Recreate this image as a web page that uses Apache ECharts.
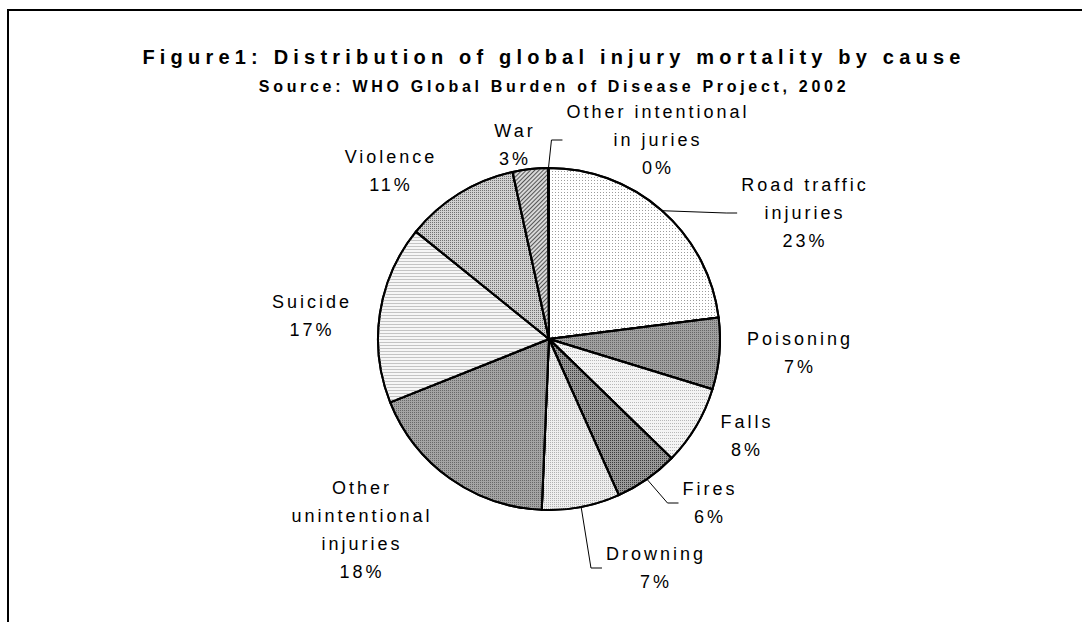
<!DOCTYPE html>
<html>
<head>
<meta charset="utf-8">
<script src="https://cdn.jsdelivr.net/npm/echarts@6/dist/echarts.min.js"></script>
<style>
html,body{margin:0;padding:0;background:#fff;}
#chart{width:1082px;height:622px;}
#chart text{letter-spacing:3px;}
#chart text[style*="20px"]{letter-spacing:5.2px;}
#chart text[style*="16px"]{letter-spacing:3.7px;}
</style>
</head>
<body>
<div id="chart"></div>
<script>
const titleText = 'Figure1: Distribution of global injury mortality by cause';
const subtitleText = 'Source: WHO Global Burden of Disease Project, 2002';
const categories = ['Road traffic\ninjuries', 'Poisoning', 'Falls', 'Fires', 'Drowning',
  'Other\nunintentional\ninjuries', 'Suicide', 'Violence', 'War', 'Other intentional\nin juries'];
const deaths = [1192, 350, 391, 312, 382, 948, 873, 559, 172, 5]; // thousands
const sliceColors = ['#ffffff', '#a0a0a0', '#f4f4f4', '#9a9a9a', '#eeeeee',
  '#a4a4a4', '#f6f6f6', '#d0d0d0', '#d8d8d8', '#ff00ff'];
const showLine = [true, false, false, true, true, false, false, false, false, true];

const total = deaths.reduce((a, b) => a + b, 0);

// texture patterns (styles only)
const decals = [
  {symbol: 'rect', symbolSize: 1, dashArrayX: [1, 2], dashArrayY: [1, 2], color: '#9c9c9c'},
  {symbol: 'rect', symbolSize: 1, dashArrayX: [1, 1], dashArrayY: [1, 1], color: '#666666'},
  {symbol: 'rect', symbolSize: 1, dashArrayX: [1, 1], dashArrayY: [1, 2], color: '#b8b8b8'},
  {symbol: 'rect', symbolSize: 1, dashArrayX: [1, 1], dashArrayY: [1, 1], color: '#3a3a3a'},
  {symbol: 'rect', symbolSize: 1, dashArrayX: [1, 1], dashArrayY: [1, 1], color: '#b0b0b0'},
  {symbol: 'rect', symbolSize: 1, dashArrayX: [1, 1], dashArrayY: [1, 1], color: '#686868'},
  {symbol: 'rect', symbolSize: 1, dashArrayX: [[1, 0]], dashArrayY: [1, 2], color: '#c4c4c4'},
  {symbol: 'rect', symbolSize: 1, dashArrayX: [1, 1], dashArrayY: [1, 1], color: '#707070'},
  {symbol: 'rect', symbolSize: 1, dashArrayX: [[1, 0]], dashArrayY: [1, 2], rotation: -Math.PI / 4, color: '#555555'},
  null
];

const chart = echarts.init(document.getElementById('chart'), null, {renderer: 'svg'});

// label placement (layout only): centre of each label block
const labelCentres = [[805, 213], [800, 353], [747, 436], [710, 503], [656, 568],
  [362, 530], [312, 316], [391, 171], [515, 145], [658, 140]];
const LETTER_SP = 3;

chart.setOption({
  backgroundColor: '#fff',
  animation: false,
  title: {
    text: titleText,
    subtext: subtitleText,
    left: 549,
    textAlign: 'center',
    top: 42,
    itemGap: 11,
    textStyle: {fontFamily: 'Liberation Sans', fontWeight: 'bold', fontSize: 20, color: '#000'},
    subtextStyle: {fontFamily: 'Liberation Sans', fontWeight: 'bold', fontSize: 16, color: '#000'}
  },
  graphic: [{
    type: 'rect', shape: {x: 8, y: 10, width: 1200, height: 800},
    style: {fill: 'none', stroke: '#000', lineWidth: 2}
  }],
  series: [{
    type: 'pie',
    center: [549, 339],
    radius: 171,
    startAngle: 90,
    clockwise: true,
    avoidLabelOverlap: false,
    itemStyle: {borderColor: '#000', borderWidth: 2},
    label: {
      show: true,
      position: 'outer',
      fontFamily: 'Liberation Sans',
      fontSize: 18,
      lineHeight: 28,
      color: '#000',
      formatter: p => (p.name + '\n' + Math.round(p.value / total * 100) + '%')
        .split('\n').map(s => '{c|' + s + '}').join('\n'),
      rich: {c: {align: 'center', fontFamily: 'Liberation Sans', fontSize: 18, lineHeight: 28, color: '#000'}}
    },
    labelLine: {length: 10, length2: 10, lineStyle: {color: '#000', width: 1}},
    data: categories.map((c, i) => ({
      name: c, value: deaths[i],
      itemStyle: decals[i] ? {color: sliceColors[i], decal: decals[i]} : {color: sliceColors[i]},
      labelLine: {show: showLine[i]}
    })),
    labelLayout: function (params) {
      const i = params.dataIndex;
      const c = labelCentres[i];
      const r = params.labelRect;
      let x = c[0], y = c[1];
      if (params.align === 'left') x = c[0] - r.width / 2;
      else if (params.align === 'right') x = c[0] + r.width / 2;
      if (params.verticalAlign === 'top') y = c[1] - r.height / 2;
      else if (params.verticalAlign === 'bottom') y = c[1] + r.height / 2;
      const res = {x: x, y: y, hideOverlap: false, moveOverlap: null};
      if (showLine[i] && params.labelLinePoints) {
        const lines = String(params.text || '').replace(/\{c\|/g, '').replace(/\}/g, '').split('\n');
        const maxLen = Math.max.apply(null, lines.map(s => s.length));
        const visW = r.width + LETTER_SP * maxLen;
        const p0 = params.labelLinePoints[0];
        const p2 = [c[0] - visW / 2 - 4, c[1]];
        const p1 = [p2[0] - 11, c[1]];
        res.labelLinePoints = [[p0[0], p0[1]], p1, p2];
      }
      return res;
    }
  }]
});
</script>
</body>
</html>
